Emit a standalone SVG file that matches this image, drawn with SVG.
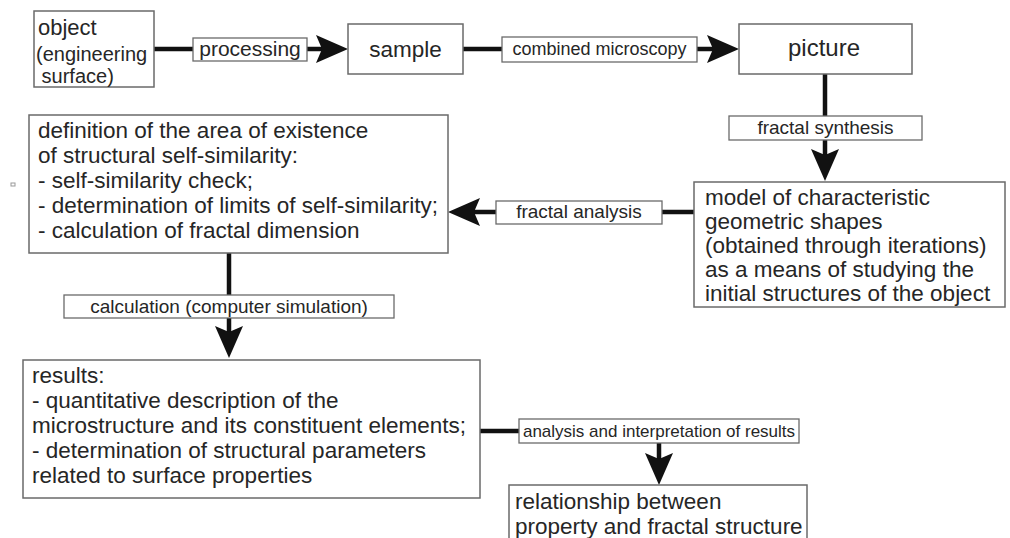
<svg xmlns="http://www.w3.org/2000/svg" width="1010" height="538" viewBox="0 0 1010 538">
<style>
.box{fill:#fff;stroke:#6a6a6a;stroke-width:1.5}
.lbl{fill:#fff;stroke:#6a6a6a;stroke-width:1.3}
.ln{fill:none;stroke:#111;stroke-width:4.5}
text{font-family:"Liberation Sans",Arial,sans-serif;fill:#262626}
.big{font-size:22.5px}
.mid{font-size:19px}
.c{text-anchor:middle}
</style>
<defs>
<marker id="ah" viewBox="0 0 32 28" refX="8" refY="14" markerWidth="32" markerHeight="28" markerUnits="userSpaceOnUse" orient="auto">
<path d="M0 0 L32 14 L0 28 L6 14 Z" fill="#111"/>
</marker>
</defs>
<rect x="11" y="183" width="4" height="3" fill="none" stroke="#999" stroke-width="1"/>
<g id="connectors">
<path class="ln" d="M154 49 H324" marker-end="url(#ah)"/>
<path class="ln" d="M463 49 H715" marker-end="url(#ah)"/>
<path class="ln" d="M825 74 V157" marker-end="url(#ah)"/>
<path class="ln" d="M694 212 H472" marker-end="url(#ah)"/>
<path class="ln" d="M229 253 V334" marker-end="url(#ah)"/>
<path class="ln" d="M480 431 H659 V461" marker-end="url(#ah)"/>
<rect class="lbl" x="193" y="38" width="114" height="23"/>
<text x="250" y="56" class="c" font-size="21">processing</text>
<rect class="lbl" x="502" y="37" width="195" height="25"/>
<text x="599.5" y="55" class="c" font-size="18">combined microscopy</text>
<rect class="lbl" x="729" y="116" width="193" height="24"/>
<text x="825.5" y="134" class="c mid">fractal synthesis</text>
<rect class="lbl" x="496" y="201" width="166" height="23"/>
<text x="579" y="218" class="c mid">fractal analysis</text>
<rect class="lbl" x="64" y="295" width="330" height="23"/>
<text x="229" y="313" class="c mid">calculation (computer simulation)</text>
<rect class="lbl" x="519" y="419" width="280" height="24"/>
<text x="659" y="437" class="c" font-size="17">analysis and interpretation of results</text>
</g>
<g id="object">
<rect class="box" x="34" y="11" width="120" height="76"/>
<text x="38" y="35" font-size="22">object</text>
<text x="36" y="61" font-size="20">(engineering</text>
<text x="36" y="83" font-size="20" xml:space="preserve"> surface)</text>
</g>
<g id="sample">
<rect class="box" x="348" y="24" width="115" height="50"/>
<text x="405.5" y="57" class="c big">sample</text>
</g>
<g id="picture">
<rect class="box" x="739" y="24" width="173" height="50"/>
<text x="824" y="56" class="c" font-size="24">picture</text>
</g>
<g id="model">
<rect class="box" x="694" y="182" width="311" height="125"/>
<text class="big" x="705">
<tspan x="705" y="205">model of characteristic</tspan>
<tspan x="705" y="229">geometric shapes</tspan>
<tspan x="705" y="253">(obtained through iterations)</tspan>
<tspan x="705" y="277">as a means of studying the</tspan>
<tspan x="705" y="301">initial structures of the object</tspan>
</text>
</g>
<g id="definition">
<rect class="box" x="29" y="115" width="419" height="138"/>
<text class="big">
<tspan x="38" y="138">definition of the area of existence</tspan>
<tspan x="38" y="163">of structural self-similarity:</tspan>
<tspan x="38" y="188">- self-similarity check;</tspan>
<tspan x="38" y="213">- determination of limits of self-similarity;</tspan>
<tspan x="38" y="238">- calculation of fractal dimension</tspan>
</text>
</g>
<g id="results">
<rect class="box" x="23" y="360" width="457" height="138"/>
<text class="big">
<tspan x="32" y="383">results:</tspan>
<tspan x="32" y="408">- quantitative description of the</tspan>
<tspan x="32" y="433">microstructure and its constituent elements;</tspan>
<tspan x="32" y="458">- determination of structural parameters</tspan>
<tspan x="32" y="483">related to surface properties</tspan>
</text>
</g>
<g id="relationship">
<rect class="box" x="509" y="485" width="298" height="62"/>
<text class="big">
<tspan x="515" y="509">relationship between</tspan>
<tspan x="515" y="534">property and fractal structure</tspan>
</text>
</g>
</svg>
